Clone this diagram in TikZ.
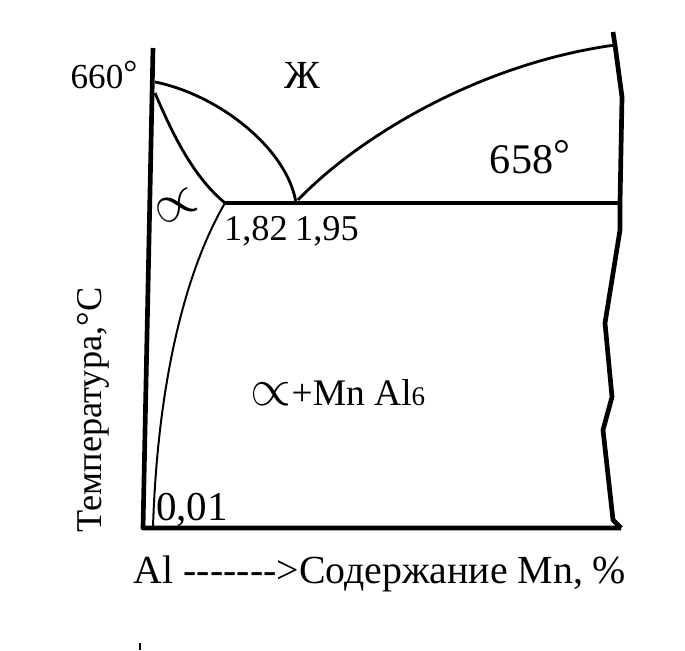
\documentclass[tikz,border=0pt]{standalone}
\usepackage{fontspec}
\setmainfont{Liberation Serif}
\usepackage{tikz}
\usetikzlibrary{arrows.meta,positioning,calc}

\newcommand{\alphsym}[1]{\scalebox{#1}{$\propto$}}
\newcommand{\degsym}{\raisebox{0.12em}{°}}

\begin{document}
\begin{tikzpicture}[
  x=0.03cm, y=-0.03cm,
  axis/.style={line width=4pt,line join=round},
  curve/.style={line width=2.4pt},
  thin curve/.style={line width=1.7pt},
  lbl/.style={inner sep=0pt,font=\fontsize{#1}{#1}\selectfont},
  lbl/.default=29
]
\useasboundingbox (0,0) rectangle (685,650);
% Frame: axes and right border
\coordinate (tl) at (153,48);
\coordinate (bl) at (143,528);
\coordinate (br) at (621,528);
\coordinate (tr) at (613,32);
\draw[axis] (tl) -- (bl) -- (br);
\draw[axis] (br) -- (613,520) -- (603,430) -- (612,397) -- (605,323)
  -- (620,230) -- (620,203) -- (622,97) -- (615,45) -- (tr);
% Key points
\coordinate (melt) at (155,82);
\coordinate (sol) at (155,93);
\coordinate (a182) at (225,203);
\coordinate (e195) at (296,203);
\coordinate (liqR) at (615,45);
\coordinate (eutR) at (620,203);
\coordinate (slv) at (153,527);
% Phase boundaries
\draw[curve] (melt) .. controls (220,95) and (288,150) .. (e195);
\draw[curve] (sol) .. controls (175,140) and (195,178) .. (a182);
\draw[line width=3.2pt] (a182) -- (eutR);
\draw[curve] (298,200) .. controls (350,145) and (470,65) .. (liqR);
\draw[thin curve] (a182) .. controls (180,280) and (157,400) .. (slv);
% Labels
\node[lbl=30] (t660) at (104,75) {660\degsym};
\node[lbl=34] (liq) at (302,75) {Ж};
\node[lbl=36] (t658) at (530,157) {658\degsym};
\node[lbl=29,rotate=25] (alpha) at (176,207) {\alphsym{1.9}};
\node[lbl=31] (c182) at (256,231) {1,82};
\node[lbl=31] (c195) at (327,231) {1,95};
\node[lbl=32] (mix) at (338,393) {\alphsym{1.8}+Mn Al{\fontsize{23}{23}\selectfont 6}};
\node[lbl=35] (c001) at (192,510) {0,01};
\node[lbl=31,rotate=90] (ylab) at (93,410) {Температура,°C};
\node[lbl=34] (xlab) at (380,574) {Al -{}-{}-{}-{}-{}-{}->Содержание Mn, \%};
\coordinate (tick) at (140,643);
\draw[line width=1.5pt] (tick) -- ++(0,7);
\end{tikzpicture}
\end{document}
